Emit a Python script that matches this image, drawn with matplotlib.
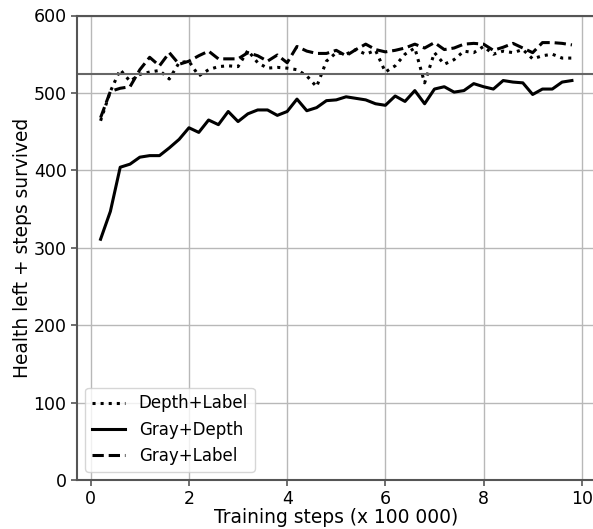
import numpy as np
import matplotlib
matplotlib.use("Agg")
import matplotlib.pyplot as plt

steps = [round(0.2 * i, 1) for i in range(1, 50)]

depth_label = [464, 502, 530, 515, 524, 527, 529, 518, 539, 541,
               522, 530, 534, 535, 534, 555, 539, 532, 533, 532,
               530, 522, 508, 541, 552, 550, 556, 550, 555, 527,
               535, 550, 558, 513, 552, 537, 543, 554, 552, 560,
               550, 554, 552, 556, 544, 548, 550, 545, 545]

gray_depth = [311, 347, 404, 408, 417, 419, 419, 429, 440, 455,
              449, 465, 459, 476, 463, 473, 478, 478, 471, 476,
              492, 477, 481, 490, 491, 495, 493, 491, 486, 484,
              496, 489, 503, 486, 505, 508, 501, 503, 512, 508,
              505, 516, 514, 513, 498, 505, 505, 514, 516]

gray_label = [468, 502, 506, 508, 530, 546, 535, 552, 537, 541,
              548, 554, 544, 544, 544, 552, 548, 541, 549, 539,
              560, 554, 551, 551, 555, 548, 556, 563, 556, 553,
              555, 558, 563, 558, 565, 556, 558, 563, 564, 563,
              555, 559, 564, 558, 552, 565, 565, 564, 562]

threshold = 525

fig = plt.figure(figsize=(5.93, 5.29), dpi=100)
ax = fig.add_axes([77 / 593, 1 - 480 / 529, (595.5 - 77) / 593, (480 - 15.5) / 529])

ax.plot(steps, depth_label, color="black", linestyle=":", linewidth=2.2, label="Depth+Label")
ax.plot(steps, gray_depth, color="black", linestyle="-", linewidth=2.2, label="Gray+Depth")
ax.plot(steps, gray_label, color="black", linestyle="--", linewidth=2.2, label="Gray+Label")
ax.axhline(threshold, color="#666666", linewidth=1.5)

ax.set_ylim(0, 600)
ax.set_xticks([0, 2, 4, 6, 8, 10])
ax.set_yticks([0, 100, 200, 300, 400, 500, 600])
ax.grid(True, color="#b8b8b8", linewidth=1.0)
ax.set_axisbelow(True)
for s in ax.spines.values():
    s.set_color("#555555")
    s.set_linewidth(1.5)
ax.tick_params(labelsize=12.5, color="#555555", length=4, width=1.2)
ax.set_xlabel("Training steps (x 100 000)", fontsize=13.4, labelpad=0)
ax.set_ylabel("Health left + steps survived", fontsize=13.4, labelpad=1)

leg = ax.legend(loc="lower left", fontsize=12, frameon=True, borderaxespad=0.5)
leg.get_frame().set_edgecolor("#cccccc")

fig.savefig("out.png", dpi=100)
